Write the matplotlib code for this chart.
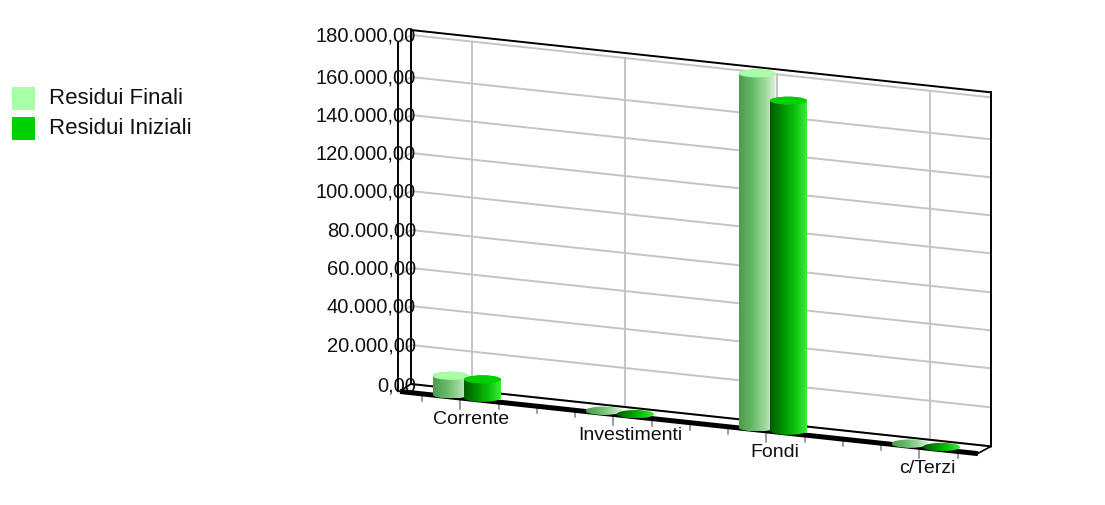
import numpy as np
import matplotlib
matplotlib.use('Agg')
import matplotlib.pyplot as plt
from matplotlib.colors import LinearSegmentedColormap
from matplotlib.patches import Ellipse, PathPatch, Rectangle
from matplotlib.path import Path

categories = ['Corrente', 'Investimenti', 'Fondi', 'c/Terzi']
residui_finali = [9600, 200, 183000, 200]
residui_iniziali = [9500, 200, 171000, 200]
tick_values = [0, 20000, 40000, 60000, 80000, 100000, 120000, 140000, 160000, 180000]
tick_labels = ['0,00', '20.000,00', '40.000,00', '60.000,00', '80.000,00', '100.000,00',
               '120.000,00', '140.000,00', '160.000,00', '180.000,00']
axis_max = 183000
series_names = ['Residui Finali', 'Residui Iniziali']

# geometria della scena, in pixel
tick_rows = [384, 345, 306, 268, 230, 191, 153, 115, 77, 35]
top_row = 30
wall_left, wall_right = 411, 991
front_left, front_right = 400, 978
slope = 0.1075
first_bar, cat_step, bar_gap = 451, 153, 31.5
bar_w, cap_h = 37, 8
label_dx = [13, 19, 10, 10]
font = 'Liberation Sans'

light_cmap = LinearSegmentedColormap.from_list('l', ['#4f9a4f', '#62b862', '#96d496', '#dcf0dc'])
dark_cmap = LinearSegmentedColormap.from_list('d', ['#005c00', '#009000', '#0cc00c', '#38ee38'])
cap_colors = ['#a8ffa8', '#00d000']
cmaps = [light_cmap, dark_cmap]

fig = plt.figure(figsize=(11.05, 5.05), dpi=100)
ax = fig.add_axes([0, 0, 1, 1])


def row(v):
    return np.interp(v, tick_values + [axis_max], tick_rows + [top_row])


def wall_line(v, **kw):
    y = row(v)
    ax.plot([wall_left, wall_right], [y, y + slope * (wall_right - wall_left)], **kw)


def cylinder(xc, base, v, cmap, cap):
    top = base - (row(0) - row(v))
    left, right = xc - bar_w / 2, xc + bar_w / 2
    k = 0.5523
    rx, ry = bar_w / 2, cap_h / 2
    verts = [(left, top), (left, base),
             (left, base + k * ry), (xc - k * rx, base + ry), (xc, base + ry),
             (xc + k * rx, base + ry), (right, base + k * ry), (right, base),
             (right, top),
             (right, top - k * ry), (xc + k * rx, top - ry), (xc, top - ry),
             (xc - k * rx, top - ry), (left, top - k * ry), (left, top), (left, top)]
    codes = [Path.MOVETO, Path.LINETO] + [Path.CURVE4] * 6 + [Path.LINETO] + [Path.CURVE4] * 6 + [Path.CLOSEPOLY]
    clip = PathPatch(Path(verts, codes), fc='none', ec='none', transform=ax.transData)
    ax.add_patch(clip)
    im = ax.imshow(np.linspace(0, 1, 64).reshape(1, -1), cmap=cmap, aspect='auto',
                   extent=[left, right, base + ry, top - ry], zorder=4, interpolation='bilinear')
    im.set_clip_path(clip)
    if base - top > 2:
        ax.add_patch(Ellipse((xc, top), bar_w, cap_h, fc=cap, ec='none', zorder=4))


# griglia e pareti
for v in tick_values:
    wall_line(v, color='#c4c4c4', lw=1.4, zorder=1)
    y = row(v)
    ax.plot([398, wall_left], [y + 8, y], color='#c4c4c4', lw=1.2, zorder=1)
for i in range(len(categories)):
    x = wall_left + 61 + 152.7 * i
    frac = slope * (x - wall_left)
    ax.plot([x, x], [row(180000) + frac, row(0) + frac], color='#c4c4c4', lw=1.4, zorder=1)

wall_line(axis_max, color='black', lw=1.4, zorder=2)
wall_line(0, color='black', lw=1.4, zorder=2)
ax.plot([wall_left, wall_left], [row(axis_max), row(0)], color='black', lw=1.4, zorder=2)
ax.plot([398, 398], [row(axis_max) + 13, row(0) + 7], color='black', lw=1.4, zorder=2)
ax.plot([wall_right, wall_right], [row(axis_max) + slope * 580, row(0) + slope * 580], color='black', lw=1.4, zorder=2)
ax.plot([wall_left, front_left], [row(0), row(0) + 7], color='black', lw=1.2, zorder=2)
ax.plot([wall_right, front_right], [row(0) + slope * 580, row(0) + slope * 580 + 7], color='black', lw=1.2, zorder=2)

# bordo frontale spesso con le tacche
edge = lambda x: 391.5 + slope * (x - front_left)
ax.plot([front_left, front_right], [edge(front_left), edge(front_right)], color='black', lw=3.6, zorder=3,
        solid_capstyle='butt')
for i in range(15):
    x = 422 + cat_step / 4 * i
    major = i % 4 == 1
    ax.plot([x, x], [edge(x) + 1, edge(x) + (11 if major else 7)], color='#808080', lw=1.1, zorder=2)

# cilindri
for s, values in enumerate([residui_finali, residui_iniziali]):
    for i, v in enumerate(values):
        xc = first_bar + cat_step * i + bar_gap * s
        base = 394.5 + slope * (xc - first_bar)
        cylinder(xc, base, v, cmaps[s], cap_colors[s])

# etichette
for v, lab in zip(tick_values, tick_labels):
    shift = 3 if v == 0 else 1.5
    ax.text(416, row(v) - 0.5 + shift, lab, ha='right', va='center', fontsize=14.5, family=font,
            color='#101018', zorder=6)
for i, lab in enumerate(categories):
    x = 460 + cat_step * i
    ax.text(x + label_dx[i] - 1.5, edge(x) + 21.5, lab, ha='center', va='center', fontsize=14, family=font,
            color='#101018', zorder=6)

# legenda
for j, name in enumerate(series_names):
    y = 87 + 30 * j
    ax.add_patch(Rectangle((12, y), 23, 23, fc=cap_colors[j], ec='none'))
    ax.text(49, y + 12, name, ha='left', va='center', fontsize=16, family=font, color='#101018')

ax.set_xlim(0, 1105)
ax.set_ylim(505, 0)
ax.axis('off')
fig.savefig('out.png', dpi=100)
